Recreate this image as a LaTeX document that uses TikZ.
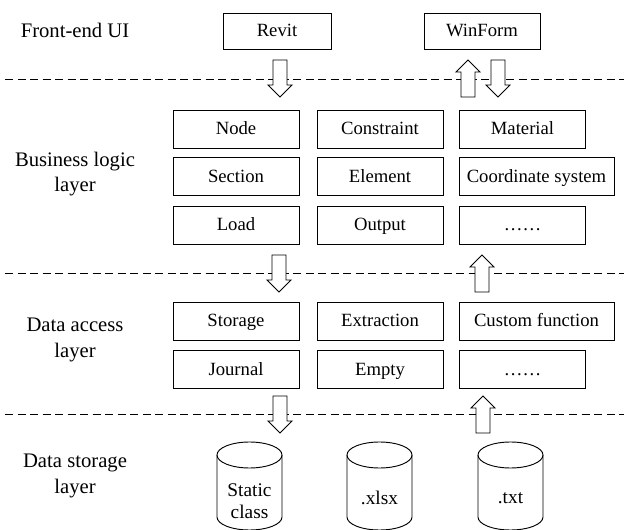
\documentclass[tikz,border=0pt]{standalone}
\usepackage{fontspec}
\setmainfont{Liberation Serif}
\begin{document}
\begin{tikzpicture}[x=0.75pt,y=-0.75pt,
  every node/.style={font=\fontsize{14}{19}\selectfont, inner sep=0pt},
  layerlabel/.style={align=center, font=\fontsize{15.5}{19}\selectfont},
  box/.style={draw, line width=0.7pt, minimum width=94.5pt, minimum height=28.5pt,
    text height=11pt, text depth=2.2pt},
  widebox/.style={box, minimum width=116.25pt},
  sep/.style={dashed, dash pattern=on 6pt off 3.4pt, line width=0.6pt},
  hollow/.style={draw, line width=0.7pt, fill=white, line join=miter},
  cyl/.style={draw, line width=0.7pt},
  pics/downarrow/.style={code={
    \path[hollow] (-7,0) -- (7,0) -- (7,25) -- (12,25) -- (0,37) -- (-12,25) -- (-7,25) -- cycle;}},
  pics/uparrow/.style={code={
    \path[hollow] (-7,37) -- (7,37) -- (7,12) -- (12,12) -- (0,0) -- (-12,12) -- (-7,12) -- cycle;}}
]
\useasboundingbox (0,0) rectangle (624,530);
\clip (0,0) rectangle (624,530);

% layer separators
\draw[sep] (5,79) -- (624,79);
\draw[sep] (5,273) -- (624,273);
\draw[sep] (5,414) -- (624,414);

% layer names
\node[layerlabel] (lui) at (75,30) {Front-end UI};
\node[layerlabel] (lbl) at (75,174) {Business logic\\layer};
\node[layerlabel] (lda) at (75,340) {Data access\\layer};
\node[layerlabel] (lds) at (75,476) {Data storage\\layer};

% front-end
\node[box, minimum width=81pt, minimum height=27pt] (revit) at (277,31) {Revit};
\node[box, minimum width=87pt, minimum height=27pt] (winform) at (482,31) {WinForm};

% business logic
\node[box] (node) at (236,129) {Node};
\node[box] (constraint) at (380,129) {Constraint};
\node[box] (material) at (522.5,129) {Material};
\node[box] (section) at (236,176.5) {Section};
\node[box] (element) at (380,176.5) {Element};
\node[widebox] (coord) at (536.5,176.5) {Coordinate system};
\node[box] (load) at (236,225) {Load};
\node[box] (output) at (380,225) {Output};
\node[box] (bmore) at (522.5,225) {……};

% data access
\node[box] (storage) at (236,321) {Storage};
\node[box] (extraction) at (380,321) {Extraction};
\node[widebox] (custom) at (536.5,321) {Custom function};
\node[box] (journal) at (236,369.5) {Journal};
\node[box] (empty) at (380,369.5) {Empty};
\node[box] (amore) at (522.5,369.5) {……};

% block arrows between layers
\pic at (280,60) {downarrow};
\pic at (468,60) {uparrow};
\pic at (498,60) {downarrow};
\pic at (279,255) {downarrow};
\pic at (482,255) {uparrow};
\pic at (280,396) {downarrow};
\pic at (483,396) {uparrow};

% data storage cylinders
\foreach \cx/\name/\txt/\ty in {249.5/static/{Static\\class}/501, 379.5/xlsx/{.xlsx}/498, 510.5/txt/{.txt}/498}{
  \draw[cyl] (\cx-32.5,455) -- (\cx-32.5,517) arc[start angle=180, end angle=360, x radius=32.5, y radius=-13] -- (\cx+32.5,455);
  \draw[cyl] (\cx,455) ellipse[x radius=32.5, y radius=13];
  \node[align=center, font=\fontsize{14.5}{16.5}\selectfont] (\name) at (\cx,\ty) {\txt};
}
\end{tikzpicture}
\end{document}
